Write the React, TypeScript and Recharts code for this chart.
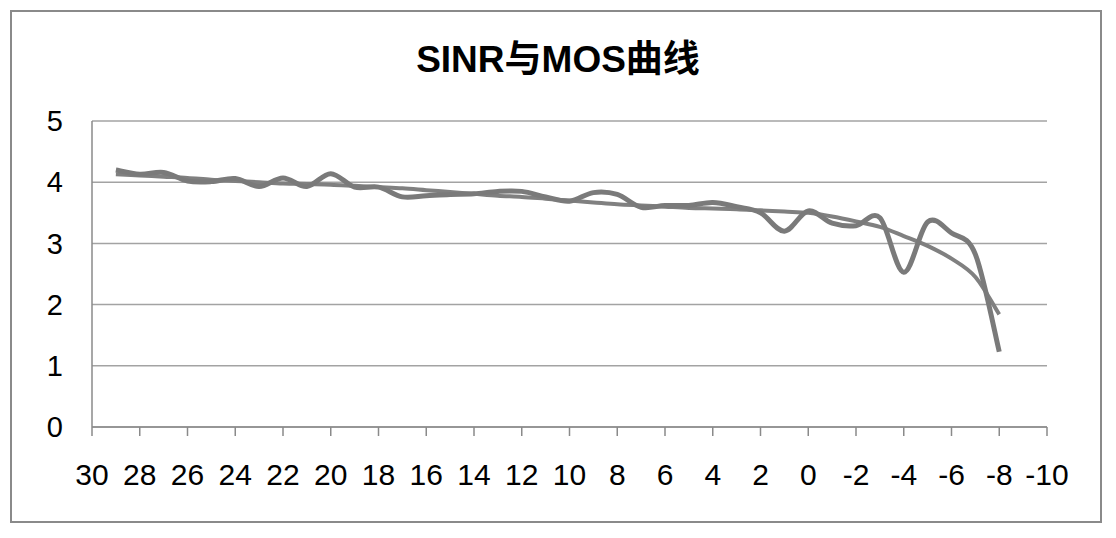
import React from "react";
import { LineChart, Line, XAxis, YAxis, CartesianGrid } from "recharts";

const sinrValues = [29, 28, 27, 26, 25, 24, 23, 22, 21, 20, 19, 18, 17, 16, 15, 14, 13, 12, 11, 10, 9, 8, 7, 6, 5, 4, 3, 2, 1, 0, -1, -2, -3, -4, -5, -6, -7, -8];
const mosValues = [4.2, 4.13, 4.16, 4.02, 4.01, 4.06, 3.93, 4.07, 3.93, 4.14, 3.92, 3.92, 3.76, 3.78, 3.8, 3.81, 3.85, 3.85, 3.76, 3.69, 3.83, 3.8, 3.59, 3.62, 3.62, 3.67, 3.6, 3.5, 3.2, 3.53, 3.33, 3.29, 3.42, 2.53, 3.35, 3.17, 2.82, 1.23];
const trendValues = [4.13, 4.11, 4.09, 4.07, 4.04, 4.02, 4.0, 3.98, 3.97, 3.96, 3.94, 3.92, 3.9, 3.87, 3.84, 3.81, 3.78, 3.76, 3.73, 3.7, 3.67, 3.64, 3.62, 3.6, 3.58, 3.57, 3.56, 3.54, 3.52, 3.5, 3.44, 3.36, 3.27, 3.12, 2.96, 2.75, 2.45, 1.84];
const xTicks = [30, 28, 26, 24, 22, 20, 18, 16, 14, 12, 10, 8, 6, 4, 2, 0, -2, -4, -6, -8, -10];
const yTicks = [0, 1, 2, 3, 4, 5];
const title = "SINR与MOS曲线";

const data = sinrValues.map((s, i) => ({ sinr: s, mos: mosValues[i], trend: trendValues[i] }));

// Excel-like smoothing (Catmull-Rom through the points)
const excelCurve: any = (context: any) => {
  let pts: number[][] = [];
  return {
    areaStart() {},
    areaEnd() {},
    lineStart() {
      pts = [];
    },
    point(x: number, y: number) {
      pts.push([+x, +y]);
    },
    lineEnd() {
      if (!pts.length) return;
      context.moveTo(pts[0][0], pts[0][1]);
      for (let i = 0; i < pts.length - 1; i++) {
        const p0 = pts[i - 1] || pts[i];
        const p1 = pts[i];
        const p2 = pts[i + 1];
        const p3 = pts[i + 2] || p2;
        context.bezierCurveTo(
          p1[0] + (p2[0] - p0[0]) / 6,
          p1[1] + (p2[1] - p0[1]) / 6,
          p2[0] - (p3[0] - p1[0]) / 6,
          p2[1] - (p3[1] - p1[1]) / 6,
          p2[0],
          p2[1]
        );
      }
    },
  };
};

const FONT = '"Liberation Sans", Arial, "Noto Sans CJK SC", sans-serif';

export default function App() {
  return (
    <div style={{ position: "relative", width: 1100, height: 522, background: "#fff" }}>
      <div
        style={{
          position: "absolute",
          left: 2,
          top: 2,
          width: 1092,
          height: 513,
          border: "2px solid #8a8a8a",
          boxSizing: "border-box",
        }}
      />
      <div
        style={{
          position: "absolute",
          left: 0,
          top: 32,
          width: 1100,
          textAlign: "center",
          fontFamily: FONT,
          fontWeight: "bold",
          fontSize: 37,
          lineHeight: "40px",
          color: "#000",
        }}
      >
        {title}
      </div>
      <div style={{ position: "absolute", left: 0, top: 0 }}>
        <LineChart width={1100} height={522} data={data} margin={{ top: 113, right: 61, bottom: 43, left: 0 }}>
          <CartesianGrid horizontal={true} vertical={false} stroke="#a3a3a3" strokeWidth={1.5} />
          <XAxis
            dataKey="sinr"
            type="number"
            domain={[-10, 30]}
            reversed
            ticks={xTicks}
            interval={0}
            height={60}
            tickSize={9}
            tickMargin={28}
            stroke="#8a8a8a"
            strokeWidth={1.5}
            tick={{ fill: "#000", fontSize: 30, fontFamily: FONT }}
          />
          <YAxis
            type="number"
            domain={[0, 5]}
            ticks={yTicks}
            width={84}
            tickLine={false}
            tickSize={0}
            tickMargin={29}
            stroke="#8a8a8a"
            strokeWidth={1.5}
            tick={{ fill: "#000", fontSize: 29, fontFamily: FONT }}
          />
          <Line
            dataKey="trend"
            type={excelCurve}
            stroke="#808080"
            strokeWidth={4}
            dot={false}
            isAnimationActive={false}
          />
          <Line
            dataKey="mos"
            type={excelCurve}
            stroke="#7a7a7a"
            strokeWidth={5}
            dot={false}
            isAnimationActive={false}
          />
        </LineChart>
      </div>
    </div>
  );
}
